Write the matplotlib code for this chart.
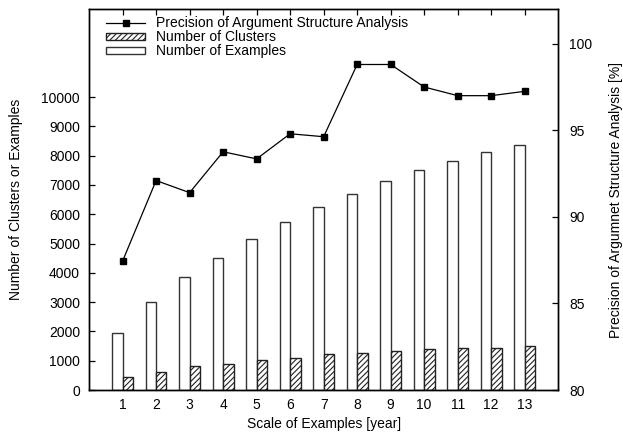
import matplotlib
matplotlib.use("Agg")
import matplotlib.pyplot as plt
import numpy as np
from matplotlib.patches import Patch
from matplotlib.lines import Line2D

plt.rcParams['font.family'] = ['Liberation Sans', 'DejaVu Sans']
plt.rcParams['hatch.linewidth'] = 0.8

years = [1, 2, 3, 4, 5, 6, 7, 8, 9, 10, 11, 12, 13]
examples = [1950, 2990, 3850, 4520, 5150, 5740, 6250, 6700, 7130, 7520, 7830, 8130, 8370]
clusters = [430, 630, 810, 900, 1020, 1100, 1220, 1270, 1340, 1400, 1440, 1440, 1510]
precision = [87.45, 92.1, 91.4, 93.76, 93.35, 94.8, 94.63, 98.8, 98.8, 97.5, 97.0, 97.0, 97.25]
left_ticks = [0, 1000, 2000, 3000, 4000, 5000, 6000, 7000, 8000, 9000, 10000]
right_ticks = [80, 85, 90, 95, 100]

fs = 10
fig = plt.figure(figsize=(6.23, 4.32), dpi=100)
ax = fig.add_axes([0.143, 0.097, 0.753, 0.882])
ax2 = ax.twinx()

x = np.array(years, dtype=float)
w = 0.31
ax.bar(x - w / 2, examples, width=w, facecolor='white', edgecolor='#333333', linewidth=1.0, zorder=2)
ax.bar(x + w / 2, clusters, width=w, facecolor='white', edgecolor='#222222', linewidth=1.0,
       hatch='//////', zorder=2)

ax2.plot(x, precision, color='black', linewidth=0.9, marker='s', markersize=4.5,
         markerfacecolor='black', markeredgecolor='black')

ax.set_xlim(0, 14)
ax.set_ylim(0, 13000)
ax2.set_ylim(80, 102)

ax.set_xticks(years)
ax.set_xticklabels([str(y) for y in years], fontsize=fs)
ax.set_yticks(left_ticks)
ax.set_yticklabels([str(t) for t in left_ticks], fontsize=fs)
ax2.set_yticks(right_ticks)
ax2.set_yticklabels([str(t) for t in right_ticks], fontsize=fs)

ax.tick_params(axis='x', direction='in', top=True, bottom=True, length=4.5, width=0.9, pad=6)
ax.tick_params(axis='y', direction='in', left=True, right=False, length=4, width=0.9, pad=6.5)
ax2.tick_params(axis='y', direction='in', right=True, left=False, length=4, width=0.9, pad=8)

for a in (ax, ax2):
    for s in a.spines.values():
        s.set_linewidth(1.0)
        s.set_color('black')

ax.set_xlabel('Scale of Examples [year]', fontsize=fs, labelpad=3)
ax.set_ylabel('Number of Clusters or Examples', fontsize=fs, labelpad=13)
ax2.set_ylabel('Precision of Argumnet Structure Analysis [%]', fontsize=fs, labelpad=12)

handles = [
    Line2D([0], [0], color='black', linewidth=0.9, marker='s', markersize=4.5),
    Patch(facecolor='white', edgecolor='#222222', hatch='//////', linewidth=1.0),
    Patch(facecolor='white', edgecolor='#333333', linewidth=1.0),
]
labels = ['Precision of Argument Structure Analysis', 'Number of Clusters', 'Number of Examples']
ax2.legend(handles, labels, loc='upper left', bbox_to_anchor=(0.028, 0.993), frameon=False,
           fontsize=fs, handlelength=2.8, handleheight=0.45, handletextpad=0.75,
           labelspacing=0.02, borderpad=0.3, borderaxespad=0.0)

fig.savefig('out.png', dpi=100)
